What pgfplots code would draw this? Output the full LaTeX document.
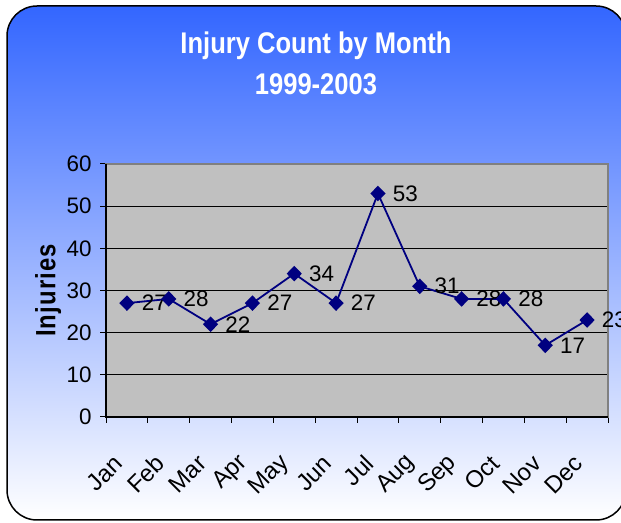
\documentclass[border=0pt]{standalone}
\usepackage{fontspec}
\setmainfont{Liberation Sans}
\newfontfamily\narrowfont{Liberation Sans}[FakeStretch=0.855]
\usepackage{pgfplots}
\pgfplotsset{compat=1.18}
\definecolor{navyline}{RGB}{0,0,128}
\definecolor{plotgray}{RGB}{192,192,192}
\definecolor{topblue}{RGB}{51,102,255}
\begin{document}
\begin{tikzpicture}[x=1bp,y=1bp]
\path[use as bounding box] (0,0) rectangle (621,523);
\clip (0,0) rectangle (621,523);
\shade[top color=topblue, bottom color=white, rounded corners=30bp] (7,3) rectangle (626,517);
\draw[line width=1.5bp, rounded corners=30bp] (7,3) rectangle (626,517);
\node[white, font=\narrowfont\fontsize{30}{36}\bfseries\selectfont, anchor=base, inner sep=0pt] at (316,469.7) {Injury Count by Month};
\node[white, font=\narrowfont\fontsize{30}{36}\bfseries\selectfont, anchor=base, inner sep=0pt] at (316,428.7) {1999-2003};
\begin{axis}[
  at={(106bp,106bp)}, anchor=south west,
  scale only axis, width=502bp, height=253bp,
  xmin=0.5, xmax=12.5, ymin=0, ymax=60,
  ytick={0,10,...,60},
  xtick={1,...,12},
  xticklabels={Jan,Feb,Mar,Apr,May,Jun,Jul,Aug,Sep,Oct,Nov,Dec},
  minor xtick={0.5,1.5,...,12.5},
  major x tick style={draw=none},
  xtick pos=bottom, ytick pos=left,
  tick align=outside,
  major tick length=6bp, minor tick length=6bp,
  tick style={black, line width=1bp},
  ymajorgrids,
  grid style={black, line width=0.7bp},
  axis background/.style={fill=plotgray},
  axis line style={draw=gray, line width=1.2bp},
  /pgf/number format/assume math mode=true,
  ticklabel style={font=\fontsize{22.5}{27}\selectfont},
  yticklabel style={xshift=-5bp},
  xticklabel style={xshift=-6bp, yshift=-34bp, rotate=45, anchor=east, font=\fontsize{24}{28}\selectfont},
  ylabel={Injuries},
  ylabel style={at={(axis description cs:-0.115,0.5)}, anchor=center, font=\narrowfont\fontsize{28}{32}\bfseries\selectfont\addfontfeature{LetterSpace=4}},
  nodes near coords,
  every node near coord/.append style={anchor=west, inner sep=0pt, xshift=14bp, font=\fontsize{22.5}{27}\selectfont, black},
  clip=false,
]
\addplot[navyline, line width=1.8bp, mark=diamond*, mark size=6.5bp, mark options={fill=navyline, draw=navyline, xscale=1.3}] coordinates {
(1,27) (2,28) (3,22) (4,27) (5,34) (6,27) (7,53) (8,31) (9,28) (10,28) (11,17) (12,23)
};
\draw[black, line width=1.2bp] (rel axis cs:0,1) -- (rel axis cs:0,0) -- (rel axis cs:1,0);
\end{axis}
\end{tikzpicture}
\end{document}
